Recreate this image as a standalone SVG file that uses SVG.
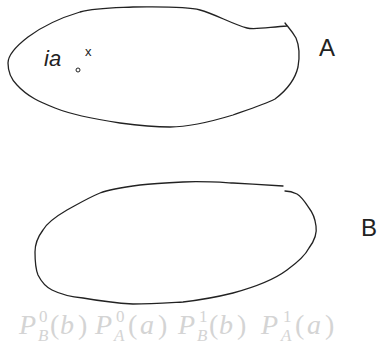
<svg xmlns="http://www.w3.org/2000/svg" width="378" height="350" viewBox="0 0 378 350">
<style>
.ink{fill:none;stroke:#222;stroke-width:1.3;stroke-linecap:round;stroke-linejoin:round}
.hand{font-family:"Liberation Sans",sans-serif;fill:#222;font-weight:normal}
.math{font-family:"Liberation Serif",serif;fill:#d4d4d4;font-size:28px}
.it{font-style:italic}
.sc{font-size:17px}
</style>
<rect width="378" height="350" fill="#fff"/>
<g id="A">
<path class="ink" d="M287,26 C270,27 255,30 247,28 C232,24 215,14 200,10 C185,6 160,7 133,7 C110,8 95,8 80,12 C60,18 40,28 28,37 C15,47 8,55 8,63 C8,72 12,80 17,85 C28,97 40,102 55,108 C75,116 100,120 120,123 C135,125 150,127 170,127 C190,127 210,122 233,115 C250,109 265,104 275,99 C287,90 295,80 298,67 C300,55 299,45 296,38 C292,31 288,27 285,23"/>
<text class="hand" x="319" y="56" font-size="24">A</text>
</g>
<g id="label-ia">
<text class="hand" x="44" y="66" font-size="22" font-style="italic">ia</text>
<circle cx="78" cy="70" r="2" fill="none" stroke="#222" stroke-width="1"/>
<text class="hand" x="85" y="56" font-size="13">x</text>
</g>
<g id="B">
<path class="ink" d="M283,186 C265,185 250,184 233,183 C215,182 200,181 183,182 C165,183 150,184 140,185 C125,187 110,189 100,193 C88,198 78,204 67,210 C55,217 47,223 43,230 C37,238 35,245 35,252 C35,262 36,270 38,275 C42,283 46,287 52,290 C62,295 72,297 83,298 C100,301 115,303 133,304 C150,304 165,303 183,302 C200,300 217,297 233,293 C255,287 275,279 287,270 C298,262 305,256 309,248 C315,240 317,232 316,226 C315,218 313,213 309,208 C305,202 302,197 297,194 C293,192 290,191 285,191"/>
<text class="hand" x="361" y="236" font-size="24">B</text>
</g>
<g id="formula">
<text class="math"><tspan class="it" x="19" y="334">P</tspan><tspan class="sc" x="39" y="322">0</tspan><tspan class="it sc" x="38" y="341">B</tspan><tspan x="50" y="334">(</tspan><tspan class="it" x="60" y="334">b</tspan><tspan x="78" y="334">)</tspan></text>
<text class="math"><tspan class="it" x="95" y="334">P</tspan><tspan class="sc" x="116" y="322">0</tspan><tspan class="it sc" x="114" y="341">A</tspan><tspan x="128" y="334">(</tspan><tspan class="it" x="140" y="334">a</tspan><tspan x="158" y="334">)</tspan></text>
<text class="math"><tspan class="it" x="178" y="334">P</tspan><tspan class="sc" x="199" y="322">1</tspan><tspan class="it sc" x="197" y="341">B</tspan><tspan x="209" y="334">(</tspan><tspan class="it" x="219" y="334">b</tspan><tspan x="237" y="334">)</tspan></text>
<text class="math"><tspan class="it" x="261" y="334">P</tspan><tspan class="sc" x="283" y="322">1</tspan><tspan class="it sc" x="281" y="341">A</tspan><tspan x="295" y="334">(</tspan><tspan class="it" x="307" y="334">a</tspan><tspan x="325" y="334">)</tspan></text>
</g>
</svg>
